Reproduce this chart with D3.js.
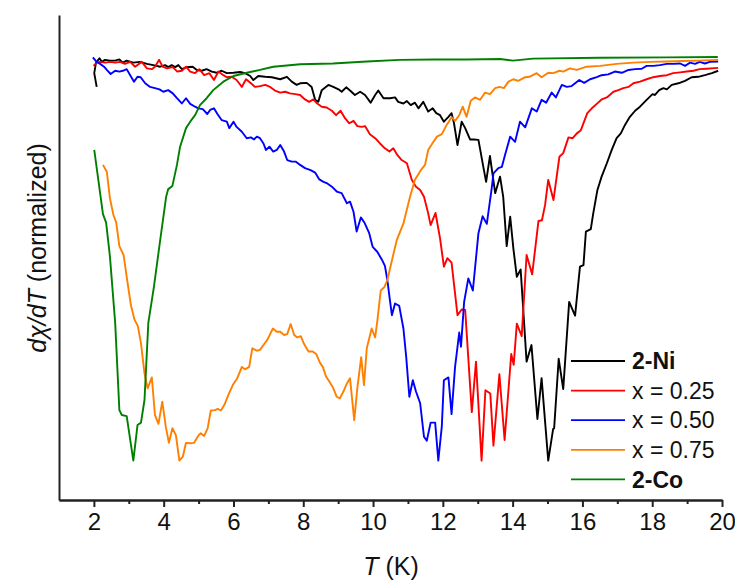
<!DOCTYPE html>
<html>
<head>
<meta charset="utf-8">
<script src="https://cdn.jsdelivr.net/npm/d3@7"></script>
<style>
  body { margin: 0; background: #fff; }
  svg { display: block; }
  .axis text { font-family: "Liberation Sans Narrow", "Arial Narrow", "Liberation Sans", Arial, sans-serif; font-size: 24px; fill: #111; }
  .axis path, .axis line { stroke: #222; stroke-width: 2; }
  .title { font-family: "Liberation Sans", Arial, sans-serif; font-size: 25px; fill: #111; }
  .leg { font-family: "Liberation Sans", Arial, sans-serif; font-size: 23px; fill: #111; }
</style>
</head>
<body>
<svg width="735" height="582"></svg>
<script>
// temperatures (K) and normalized dchi/dT
const tNi = [2.08,2.01,2.06,2.16,2.23,2.32,2.46,2.61,2.73,2.83,2.94,3.13,3.32,3.52,3.70,3.90,4.04,4.13,4.23,4.33,4.42,4.52,4.66,4.83,4.95,5.09,5.23,5.38,5.52,5.66,5.81,6.00,6.19,6.33,6.48,6.57,6.71,6.91,7.10,7.34,7.53,7.67,7.81,7.91,8.10,8.24,8.34,8.43,8.53,8.72,8.86,9.01,9.10,9.23,9.34,9.48,9.63,9.77,9.93,10.06,10.15,10.30,10.49,10.63,10.72,10.87,10.97,11.08,11.20,11.30,11.44,11.58,11.71,11.81,11.92,12.03,12.16,12.25,12.32,12.42,12.54,12.64,12.78,12.89,13.02,13.16,13.24,13.35,13.50,13.64,13.73,13.83,13.93,14.02,14.12,14.23,14.40,14.54,14.71,14.83,15.02,15.16,15.19,15.32,15.45,15.62,15.79,15.93,16.03,16.10,16.24,16.31,16.43,16.55,16.70,16.84,16.98,17.10,17.22,17.36,17.51,17.65,17.84,18.01,18.08,18.20,18.32,18.42,18.56,18.75,18.94,19.13,19.32,19.51,19.71,19.89];
const dNi = [-0.074,-0.040,-0.014,-0.003,-0.012,-0.007,-0.009,-0.009,-0.006,-0.014,-0.009,-0.014,-0.012,-0.017,-0.020,-0.024,-0.020,-0.025,-0.020,-0.025,-0.020,-0.030,-0.025,-0.024,-0.032,-0.034,-0.030,-0.036,-0.039,-0.034,-0.040,-0.039,-0.037,-0.040,-0.047,-0.057,-0.047,-0.049,-0.050,-0.055,-0.049,-0.061,-0.069,-0.065,-0.064,-0.074,-0.106,-0.111,-0.082,-0.069,-0.074,-0.080,-0.086,-0.075,-0.083,-0.094,-0.086,-0.094,-0.113,-0.094,-0.083,-0.102,-0.102,-0.100,-0.111,-0.115,-0.109,-0.119,-0.113,-0.127,-0.111,-0.135,-0.127,-0.139,-0.144,-0.160,-0.148,-0.139,-0.164,-0.218,-0.160,-0.176,-0.204,-0.204,-0.205,-0.272,-0.309,-0.245,-0.337,-0.296,-0.346,-0.468,-0.395,-0.473,-0.544,-0.526,-0.754,-0.713,-0.896,-0.795,-0.999,-0.921,-0.919,-0.747,-0.822,-0.606,-0.640,-0.519,-0.515,-0.432,-0.426,-0.387,-0.329,-0.296,-0.263,-0.230,-0.201,-0.189,-0.168,-0.148,-0.133,-0.123,-0.106,-0.092,-0.094,-0.082,-0.077,-0.080,-0.069,-0.065,-0.059,-0.050,-0.049,-0.045,-0.040,-0.034];

const t025 = [1.99,2.08,2.18,2.32,2.46,2.61,2.75,2.89,3.04,3.18,3.37,3.52,3.66,3.75,3.87,3.97,4.09,4.26,4.39,4.52,4.64,4.76,4.90,5.02,5.16,5.31,5.44,5.57,5.71,5.81,5.95,6.09,6.24,6.36,6.50,6.62,6.76,6.91,7.05,7.19,7.34,7.48,7.62,7.77,7.91,8.05,8.17,8.29,8.40,8.53,8.67,8.82,8.94,9.07,9.20,9.32,9.44,9.55,9.68,9.77,9.91,10.06,10.20,10.34,10.47,10.58,10.70,10.82,10.97,11.11,11.23,11.35,11.46,11.58,11.65,11.79,11.92,12.03,12.13,12.25,12.42,12.54,12.64,12.83,12.95,13.11,13.22,13.36,13.45,13.62,13.77,13.96,14.03,14.12,14.26,14.40,14.56,14.74,14.84,14.93,15.02,15.17,15.34,15.45,15.60,15.72,15.84,15.95,16.14,16.27,16.41,16.55,16.70,16.89,17.03,17.17,17.32,17.46,17.65,17.84,18.03,18.22,18.42,18.60,18.80,18.99,19.18,19.36,19.56,19.89];
const d025 = [-0.022,-0.014,-0.012,-0.014,-0.012,-0.014,-0.012,-0.017,-0.012,-0.024,-0.012,-0.028,-0.030,-0.024,-0.007,-0.024,-0.028,-0.025,-0.036,-0.034,-0.024,-0.036,-0.040,-0.030,-0.045,-0.040,-0.057,-0.036,-0.045,-0.050,-0.049,-0.057,-0.074,-0.055,-0.065,-0.074,-0.072,-0.069,-0.074,-0.083,-0.088,-0.086,-0.090,-0.092,-0.094,-0.105,-0.111,-0.105,-0.115,-0.123,-0.125,-0.133,-0.144,-0.133,-0.152,-0.164,-0.158,-0.171,-0.173,-0.171,-0.191,-0.201,-0.214,-0.226,-0.234,-0.226,-0.243,-0.255,-0.263,-0.304,-0.321,-0.329,-0.346,-0.387,-0.416,-0.386,-0.449,-0.519,-0.498,-0.509,-0.639,-0.625,-0.626,-0.879,-0.754,-0.999,-0.825,-0.833,-0.962,-0.785,-0.948,-0.735,-0.762,-0.660,-0.691,-0.490,-0.538,-0.406,-0.404,-0.366,-0.304,-0.354,-0.247,-0.238,-0.199,-0.201,-0.189,-0.182,-0.139,-0.127,-0.116,-0.105,-0.100,-0.086,-0.082,-0.077,-0.074,-0.065,-0.061,-0.055,-0.050,-0.047,-0.045,-0.040,-0.038,-0.036,-0.034,-0.030,-0.029,-0.027];

const t050 = [1.97,2.08,2.18,2.29,2.37,2.48,2.61,2.73,2.83,2.94,3.04,3.15,3.25,3.34,3.47,3.61,3.75,3.88,3.99,4.13,4.26,4.38,4.52,4.64,4.76,4.90,4.99,5.12,5.25,5.33,5.44,5.54,5.66,5.81,5.88,6.00,6.09,6.24,6.38,6.50,6.59,6.67,6.76,6.86,6.93,7.03,7.14,7.24,7.34,7.45,7.54,7.67,7.79,7.91,8.05,8.21,8.34,8.46,8.58,8.69,8.82,8.96,9.10,9.25,9.34,9.44,9.53,9.65,9.76,9.89,9.99,10.12,10.25,10.34,10.41,10.47,10.54,10.63,10.75,10.87,10.95,11.04,11.14,11.23,11.35,11.46,11.54,11.65,11.78,11.87,11.97,12.03,12.16,12.25,12.35,12.47,12.52,12.61,12.73,12.86,13.02,13.14,13.26,13.40,13.45,13.59,13.69,13.78,13.93,14.07,14.21,14.36,14.55,14.69,14.83,14.96,15.12,15.24,15.41,15.55,15.69,15.91,16.05,16.22,16.41,16.55,16.74,16.93,17.13,17.32,17.51,17.70,17.84,18.03,18.22,18.42,18.60,18.80,18.94,19.08,19.23,19.36,19.51,19.65,19.89];
const d050 = [-0.001,-0.012,-0.017,-0.024,-0.032,-0.042,-0.034,-0.036,-0.034,-0.030,-0.045,-0.061,-0.049,-0.050,-0.065,-0.074,-0.077,-0.080,-0.086,-0.082,-0.090,-0.102,-0.115,-0.102,-0.116,-0.123,-0.127,-0.129,-0.141,-0.131,-0.127,-0.141,-0.156,-0.160,-0.176,-0.160,-0.173,-0.185,-0.201,-0.199,-0.204,-0.197,-0.201,-0.214,-0.230,-0.222,-0.234,-0.230,-0.218,-0.234,-0.255,-0.259,-0.259,-0.267,-0.275,-0.280,-0.286,-0.303,-0.309,-0.313,-0.321,-0.333,-0.337,-0.362,-0.358,-0.383,-0.432,-0.397,-0.411,-0.436,-0.470,-0.482,-0.501,-0.517,-0.552,-0.593,-0.639,-0.610,-0.616,-0.672,-0.742,-0.841,-0.800,-0.828,-0.857,-0.940,-0.950,-0.905,-0.905,-0.999,-0.915,-0.800,-0.793,-0.884,-0.767,-0.682,-0.717,-0.606,-0.548,-0.578,-0.436,-0.394,-0.413,-0.325,-0.288,-0.275,-0.272,-0.243,-0.197,-0.210,-0.160,-0.174,-0.127,-0.135,-0.106,-0.113,-0.088,-0.100,-0.069,-0.074,-0.072,-0.057,-0.064,-0.055,-0.050,-0.045,-0.043,-0.036,-0.039,-0.032,-0.030,-0.029,-0.022,-0.022,-0.020,-0.017,-0.017,-0.016,-0.022,-0.014,-0.017,-0.012,-0.016,-0.012,-0.011];

const t075 = [2.26,2.37,2.46,2.56,2.64,2.73,2.85,2.94,3.06,3.16,3.26,3.35,3.45,3.54,3.66,3.75,3.85,3.96,4.06,4.15,4.25,4.35,4.45,4.55,4.64,4.76,4.87,4.99,5.06,5.16,5.26,5.35,5.47,5.55,5.64,5.74,5.85,5.98,6.11,6.24,6.33,6.45,6.54,6.67,6.76,6.86,6.97,7.13,7.24,7.34,7.45,7.54,7.64,7.74,7.83,7.93,8.02,8.15,8.27,8.37,8.48,8.56,8.65,8.75,8.85,8.96,9.05,9.15,9.25,9.34,9.46,9.55,9.66,9.74,9.82,9.96,10.06,10.12,10.22,10.32,10.41,10.52,10.68,10.87,11.06,11.20,11.37,11.49,11.58,11.73,11.83,11.97,12.11,12.25,12.35,12.47,12.57,12.68,12.80,12.92,13.07,13.21,13.35,13.50,13.62,13.75,13.88,14.02,14.16,14.36,14.48,14.69,14.83,15.02,15.17,15.34,15.45,15.64,15.84,16.12,16.51,16.98,17.46,17.94,18.42,18.89,19.36,19.89];
const d075 = [-0.267,-0.284,-0.350,-0.391,-0.410,-0.468,-0.490,-0.544,-0.614,-0.649,-0.666,-0.709,-0.783,-0.820,-0.793,-0.886,-0.908,-0.853,-0.915,-0.955,-0.919,-0.936,-0.999,-0.989,-0.955,-0.956,-0.955,-0.938,-0.931,-0.938,-0.919,-0.875,-0.874,-0.871,-0.875,-0.861,-0.837,-0.812,-0.795,-0.767,-0.773,-0.767,-0.721,-0.727,-0.725,-0.713,-0.700,-0.672,-0.680,-0.680,-0.688,-0.686,-0.661,-0.688,-0.694,-0.691,-0.710,-0.729,-0.729,-0.735,-0.757,-0.767,-0.790,-0.804,-0.818,-0.841,-0.845,-0.828,-0.808,-0.795,-0.899,-0.819,-0.743,-0.812,-0.721,-0.672,-0.694,-0.655,-0.578,-0.570,-0.552,-0.511,-0.453,-0.412,-0.346,-0.304,-0.280,-0.267,-0.230,-0.210,-0.197,-0.191,-0.168,-0.149,-0.158,-0.144,-0.123,-0.148,-0.108,-0.100,-0.106,-0.088,-0.092,-0.077,-0.074,-0.077,-0.061,-0.055,-0.059,-0.050,-0.049,-0.040,-0.050,-0.039,-0.040,-0.034,-0.036,-0.028,-0.032,-0.024,-0.022,-0.017,-0.014,-0.012,-0.011,-0.010,-0.009,-0.007];

const tCo = [2.01,2.26,2.35,2.46,2.61,2.73,2.80,2.94,3.13,3.25,3.35,3.45,3.56,3.72,3.90,4.07,4.13,4.25,4.38,4.47,4.64,4.76,4.90,5.04,5.23,5.42,5.71,6.00,6.38,6.76,7.14,7.53,7.91,8.85,9.82,10.77,11.72,12.68,13.64,14.01,14.58,16.50,18.42,19.88];
const dCo = [-0.230,-0.389,-0.410,-0.494,-0.658,-0.874,-0.886,-0.889,-0.999,-0.911,-0.905,-0.849,-0.658,-0.569,-0.453,-0.346,-0.327,-0.319,-0.267,-0.222,-0.176,-0.160,-0.144,-0.119,-0.102,-0.082,-0.061,-0.047,-0.039,-0.032,-0.024,-0.021,-0.018,-0.016,-0.011,-0.007,-0.006,-0.006,-0.005,-0.009,-0.004,-0.002,-0.001,0];

const seriesNames = ["2-Ni", "x = 0.25", "x = 0.50", "x = 0.75", "2-Co"];
const seriesBold = [true, false, false, false, true];
const seriesColors = ["#000000", "#ff0000", "#0000ff", "#ff8000", "#008000"];
const seriesT = [tNi, t025, t050, t075, tCo];
const seriesD = [dNi, d025, d050, d075, dCo];

const majorTicks = [2, 4, 6, 8, 10, 12, 14, 16, 18, 20];
const minorTicks = [3, 5, 7, 9, 11, 13, 15, 17, 19];

var svg = d3.select("svg");

var x = d3.scaleLinear().domain([1, 20]).range([59, 722]);
var y = d3.scaleLinear().domain([-1.0965, 0.104]).range([500, 15]);

var series = seriesNames.map((name, i) => ({
  name: name,
  bold: seriesBold[i],
  color: seriesColors[i],
  pts: seriesT[i].map((t, j) => [t, seriesD[i][j]])
}));

var line = d3.line()
  .x(d => x(d[0]))
  .y(d => y(d[1]));

svg.append("g")
  .selectAll("path")
  .data(series).enter()
  .append("path")
  .attr("fill", "none")
  .attr("stroke", d => d.color)
  .attr("stroke-width", 1.9)
  .attr("stroke-linejoin", "round")
  .attr("d", d => line(d.pts));

// axes
svg.append("g")
  .attr("class", "axis")
  .attr("transform", "translate(0,500)")
  .call(d3.axisBottom(x).tickValues(minorTicks).tickSize(4).tickSizeOuter(0).tickFormat(""));

svg.append("g")
  .attr("class", "axis")
  .attr("transform", "translate(0,500)")
  .call(d3.axisBottom(x).tickValues(majorTicks).tickSize(7).tickSizeOuter(0).tickPadding(6));

svg.append("g")
  .attr("class", "axis")
  .attr("transform", "translate(59,0)")
  .call(d3.axisLeft(y).tickValues([]).tickSizeOuter(0));

// axis titles
var xt = svg.append("text")
  .attr("class", "title")
  .attr("x", 391)
  .attr("y", 575)
  .attr("text-anchor", "middle");
xt.append("tspan").attr("font-style", "italic").text("T");
xt.append("tspan").text(" (K)");

var yt = svg.append("text")
  .attr("class", "title")
  .attr("transform", "translate(46,248) rotate(-90)")
  .attr("text-anchor", "middle");
yt.append("tspan").attr("font-style", "italic").text("d\u03c7/dT");
yt.append("tspan").text(" (normalized)");

// legend
var leg = svg.append("g")
  .selectAll("g")
  .data(series).enter()
  .append("g")
  .attr("transform", (d, i) => "translate(571," + (361 + i * 29.6) + ")");

leg.append("line")
  .attr("x1", 0).attr("x2", 54)
  .attr("stroke", d => d.color)
  .attr("stroke-width", 1.8);

leg.append("text")
  .attr("class", "leg")
  .attr("x", 61)
  .attr("dy", "0.36em")
  .attr("font-weight", d => d.bold ? "bold" : "normal")
  .text(d => d.name);
</script>
</body>
</html>
